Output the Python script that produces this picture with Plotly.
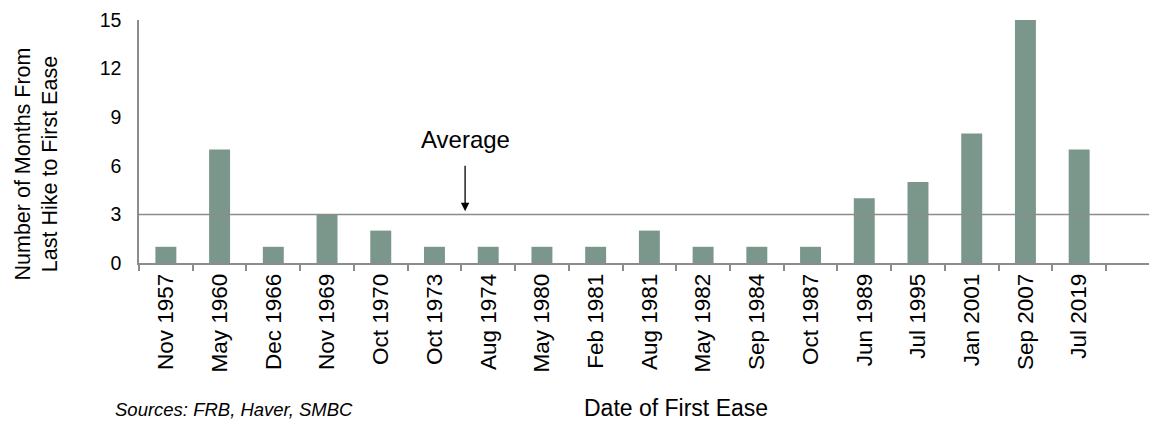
import plotly.graph_objects as go

categories = ["Nov 1957", "May 1960", "Dec 1966", "Nov 1969", "Oct 1970", "Oct 1973",
              "Aug 1974", "May 1980", "Feb 1981", "Aug 1981", "May 1982", "Sep 1984",
              "Oct 1987", "Jun 1989", "Jul 1995", "Jan 2001", "Sep 2007", "Jul 2019"]
months = [1, 7, 1, 3, 2, 1, 1, 1, 1, 2, 1, 1, 1, 4, 5, 8, 15, 7]
average_level = 3
y_ticks = [0, 3, 6, 9, 12, 15]

FONT = "Liberation Sans, Arial, sans-serif"
BAR = "#7b978c"
GRAY = "#8c8c8c"

fig = go.Figure()
fig.add_trace(go.Bar(x=categories, y=months, marker_color=BAR, marker_line_width=0,
                     width=0.39))

fig.add_shape(type="line", xref="paper", yref="y", x0=0, x1=1,
              y0=average_level, y1=average_level,
              line=dict(color=GRAY, width=1.5), layer="above")

W = 1010.0
fig.add_annotation(x=5.57, y=average_level + 0.2, ax=5.57, ay=6.1,
                   xref="x", yref="y", axref="x", ayref="y",
                   text="", showarrow=True, arrowhead=2, arrowsize=1.3,
                   arrowwidth=1.3, arrowcolor="black")
fig.add_annotation(x=5.57, y=7.6, xref="x", yref="y", text="Average",
                   showarrow=False, font=dict(family=FONT, size=24, color="black"))
fig.add_annotation(x=(36.5 - 139) / W, y=(263 - 164) / 243.0, xref="paper", yref="paper",
                   xanchor="center", yanchor="middle",
                   text="Number of Months From<br>Last Hike to First Ease",
                   textangle=-90, showarrow=False, align="center",
                   font=dict(family=FONT, size=21.5, color="black"))
fig.add_annotation(x=(113 - 139) / W, y=-(409 - 263) / 243.0, xref="paper", yref="paper",
                   xanchor="left", yanchor="middle",
                   text="<i>Sources: FRB, Haver, SMBC</i>", showarrow=False,
                   font=dict(family=FONT, size=18.5, color="black"))
fig.add_annotation(x=(676 - 139) / W, y=-(408 - 263) / 243.0, xref="paper", yref="paper",
                   xanchor="center", yanchor="middle",
                   text="Date of First Ease", showarrow=False,
                   font=dict(family=FONT, size=23, color="black"))

fig.update_layout(
    width=1150, height=421,
    margin=dict(l=139, r=1, t=20, b=158),
    paper_bgcolor="white", plot_bgcolor="white",
    showlegend=False,
    font=dict(family=FONT, color="black"),
)
fig.update_xaxes(type="category", range=[-0.5, 18.3], tickson="boundaries",
                 ticks="outside", ticklen=6, tickcolor=GRAY, tickwidth=1.5,
                 showline=True, linecolor=GRAY, linewidth=1.5,
                 tickangle=-90, tickfont=dict(family=FONT, size=22.5, color="black"),
                 showgrid=False, zeroline=False)
fig.update_yaxes(range=[0, 15], tickvals=y_ticks, ticks="", showline=True,
                 linecolor=GRAY, linewidth=1.5, showgrid=False, zeroline=False,
                 ticklabelstandoff=12,
                 tickfont=dict(family=FONT, size=19.5, color="black"))

fig.write_html("out.html")
